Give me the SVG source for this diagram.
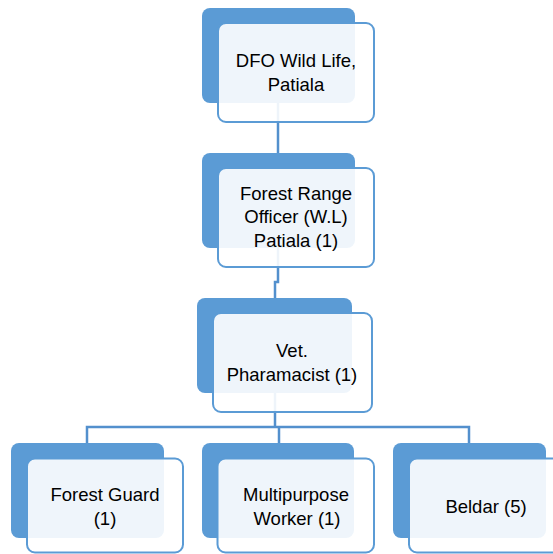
<svg xmlns="http://www.w3.org/2000/svg" width="553" height="554" viewBox="0 0 553 554">
<style>
.back{fill:#5B9BD5}
.front{fill:#FFFFFF;fill-opacity:0.9;stroke:#5B9BD5;stroke-width:2}
.conn{fill:none;stroke:#5390CD;stroke-width:2.5}
text{font-family:"Liberation Sans",Arial,sans-serif;font-size:18.5px;fill:#000;text-anchor:middle}
</style>
<rect width="553" height="554" fill="#FFFFFF"/>
<g id="connectors">
<path class="conn" d="M278,103 V155"/>
<path class="conn" d="M278,248 V282 H275 V299"/>
<path class="conn" d="M275,393 V427"/>
<path class="conn" d="M87,444 V427 H469 V444 M279,427 V444"/>
</g>
<g id="n1">
<rect class="back" x="202" y="8" width="153" height="95" rx="8"/>
<rect class="front" x="218" y="23" width="156" height="99" rx="8"/>
<text x="296" y="67">DFO Wild Life,</text>
<text x="296" y="91">Patiala</text>
</g>
<g id="n2">
<rect class="back" x="202" y="153" width="153" height="95" rx="8"/>
<rect class="front" x="218" y="168" width="156" height="99" rx="8"/>
<text x="296" y="200">Forest Range</text>
<text x="296" y="223">Officer (W.L)</text>
<text x="296" y="247">Patiala (1)</text>
</g>
<g id="n3">
<rect class="back" x="197" y="298" width="155" height="95" rx="8"/>
<rect class="front" x="213" y="313" width="159" height="99" rx="8"/>
<text x="292" y="357">Vet.</text>
<text x="292" y="381">Pharamacist (1)</text>
</g>
<g id="n4">
<rect class="back" x="11" y="443" width="153" height="95" rx="8"/>
<rect class="front" x="27" y="458.5" width="156" height="94" rx="8"/>
<text x="105" y="501">Forest Guard</text>
<text x="105" y="525">(1)</text>
</g>
<g id="n5">
<rect class="back" x="202" y="443" width="152" height="95" rx="8"/>
<rect class="front" x="217.5" y="458.5" width="156.5" height="94" rx="8"/>
<text x="296" y="501">Multipurpose</text>
<text x="297" y="525">Worker (1)</text>
</g>
<g id="n6">
<rect class="back" x="393" y="443" width="153" height="95" rx="8"/>
<rect class="front" x="409" y="458.5" width="156" height="94" rx="8"/>
<text x="486" y="513">Beldar (5)</text>
</g>
</svg>
